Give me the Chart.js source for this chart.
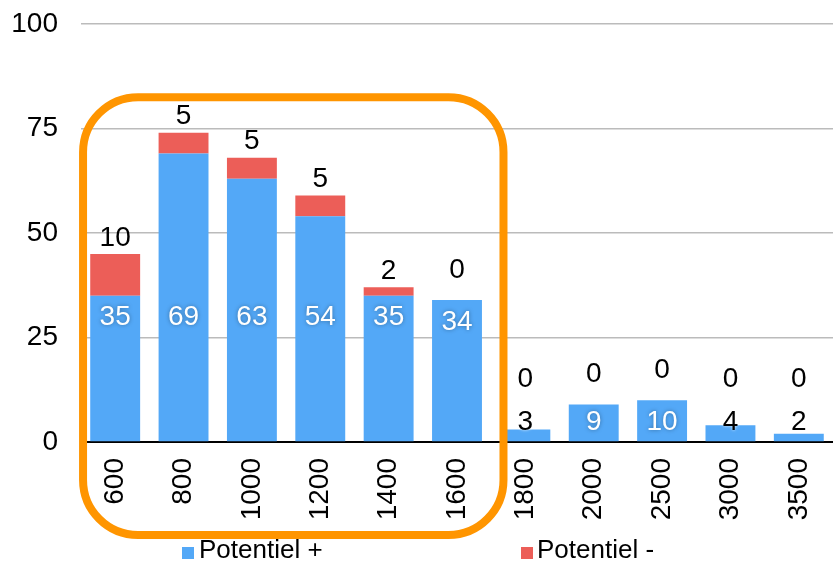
<!DOCTYPE html>
<html>
<head>
<meta charset="utf-8">
<script src="https://cdn.jsdelivr.net/npm/chart.js@4/dist/chart.umd.min.js"></script>
<style>
  html, body { margin: 0; padding: 0; background: #fff; }
  #wrap { position: relative; width: 833px; height: 564px; overflow: hidden; }
  .leg { position: absolute; top: 536px; font: 26px "Liberation Sans", Arial, sans-serif; color: #000; line-height: 26px; white-space: nowrap; }
  .sw { position: absolute; width: 12px; height: 12px; }
</style>
</head>
<body>
<div id="wrap">
  <canvas id="c" width="833" height="564"></canvas>
  <div class="sw" style="left:182px;top:547px;background:#53a8f7"></div>
  <div class="leg" style="left:199px" id="l1"></div>
  <div class="sw" style="left:521px;top:547px;background:#ec5e58"></div>
  <div class="leg" style="left:537px" id="l2"></div>
</div>
<script>
const categories = ['600', '800', '1000', '1200', '1400', '1600', '1800', '2000', '2500', '3000', '3500'];
const potentielPlus = [35, 69, 63, 54, 35, 34, 3, 9, 10, 4, 2];
const potentielMinus = [10, 5, 5, 5, 2, 0, 0, 0, 0, 0, 0];
const yTicks = [0, 25, 50, 75, 100];
const seriesNames = ['Potentiel +', 'Potentiel -'];
const highlightedCount = 6;

document.getElementById('l1').textContent = seriesNames[0];
document.getElementById('l2').textContent = seriesNames[1];

const FONT = '"Liberation Sans", Arial, sans-serif';
const BLUE = '#53a8f7';
const RED = '#ec5e58';

const labelPlugin = {
  id: 'valueLabels',
  afterDatasetsDraw(chart) {
    const ctx = chart.ctx;
    const ys = chart.scales.y;
    const m0 = chart.getDatasetMeta(0);
    ctx.save();
    ctx.font = '28px ' + FONT;
    ctx.textAlign = 'center';
    ctx.textBaseline = 'middle';
    m0.data.forEach((el, i) => {
      const v = potentielPlus[i];
      const y = Math.min(Math.max(el.y + 21, ys.getPixelForValue(30)), ys.getPixelForValue(5));
      ctx.save();
      if (v >= 9) {
        ctx.fillStyle = '#fff';
        ctx.shadowColor = 'rgba(0,0,0,0.35)';
        ctx.shadowBlur = 4;
      } else {
        ctx.fillStyle = '#000';
        ctx.shadowColor = 'rgba(255,255,255,0.9)';
        ctx.shadowBlur = 3;
      }
      ctx.fillText(String(v), el.x, y + 1);
      ctx.restore();
    });
    m0.data.forEach((el, i) => {
      const v = potentielMinus[i];
      const top = ys.getPixelForValue(potentielPlus[i] + v);
      const y = v === 0 ? Math.min(top - 30, ys.getPixelForValue(15)) : top - 16;
      ctx.fillStyle = '#000';
      ctx.fillText(String(v), el.x, y);
    });
    ctx.restore();
  }
};

const framePlugin = {
  id: 'frame',
  afterDraw(chart) {
    const ctx = chart.ctx;
    const xs = chart.scales.x;
    const ys = chart.scales.y;
    const step = xs.getPixelForValue(1) - xs.getPixelForValue(0);
    const left = xs.getPixelForValue(0) - step * 0.47;
    const right = xs.getPixelForValue(highlightedCount - 1) + step * 0.68;
    const top = ys.getPixelForValue(82.5);
    const bottom = chart.chartArea.bottom + 93;
    ctx.save();
    ctx.strokeStyle = '#ff9500';
    ctx.lineWidth = 8;
    ctx.beginPath();
    ctx.roundRect(left, top, right - left, bottom - top, 55);
    ctx.stroke();
    ctx.restore();
  }
};

new Chart(document.getElementById('c'), {
  type: 'bar',
  data: {
    labels: categories,
    datasets: [
      { label: seriesNames[0], data: potentielPlus, backgroundColor: BLUE, borderWidth: 0 },
      { label: seriesNames[1], data: potentielMinus, backgroundColor: RED, borderWidth: 0 }
    ]
  },
  options: {
    responsive: false,
    animation: false,
    layout: { padding: { top: 24, right: 0, left: 0, bottom: 0 } },
    plugins: { legend: { display: false }, tooltip: { enabled: false } },
    datasets: { bar: { categoryPercentage: 1, barPercentage: 0.73 } },
    scales: {
      x: {
        stacked: true,
        grid: { display: false, drawTicks: false },
        border: { display: true, color: '#000', width: 2 },
        ticks: {
          autoSkip: false, minRotation: 90, maxRotation: 90, padding: 16,
          color: '#000', font: { family: FONT, size: 28 }
        },
        afterFit(s) { s.height = 122; s.paddingLeft = 0; s.paddingRight = 0; }
      },
      y: {
        stacked: true,
        min: 0, max: 100,
        afterBuildTicks(s) { s.ticks = yTicks.map(v => ({ value: v })); },
        grid: { color: '#bbbbbb', lineWidth: 1.5, drawTicks: false },
        border: { display: false },
        ticks: { padding: 23, color: '#000', font: { family: FONT, size: 28 } },
        afterFit(s) { s.width = 81; s.paddingTop = 0; s.paddingBottom = 0; }
      }
    }
  },
  plugins: [labelPlugin, framePlugin]
});
</script>
</body>
</html>
